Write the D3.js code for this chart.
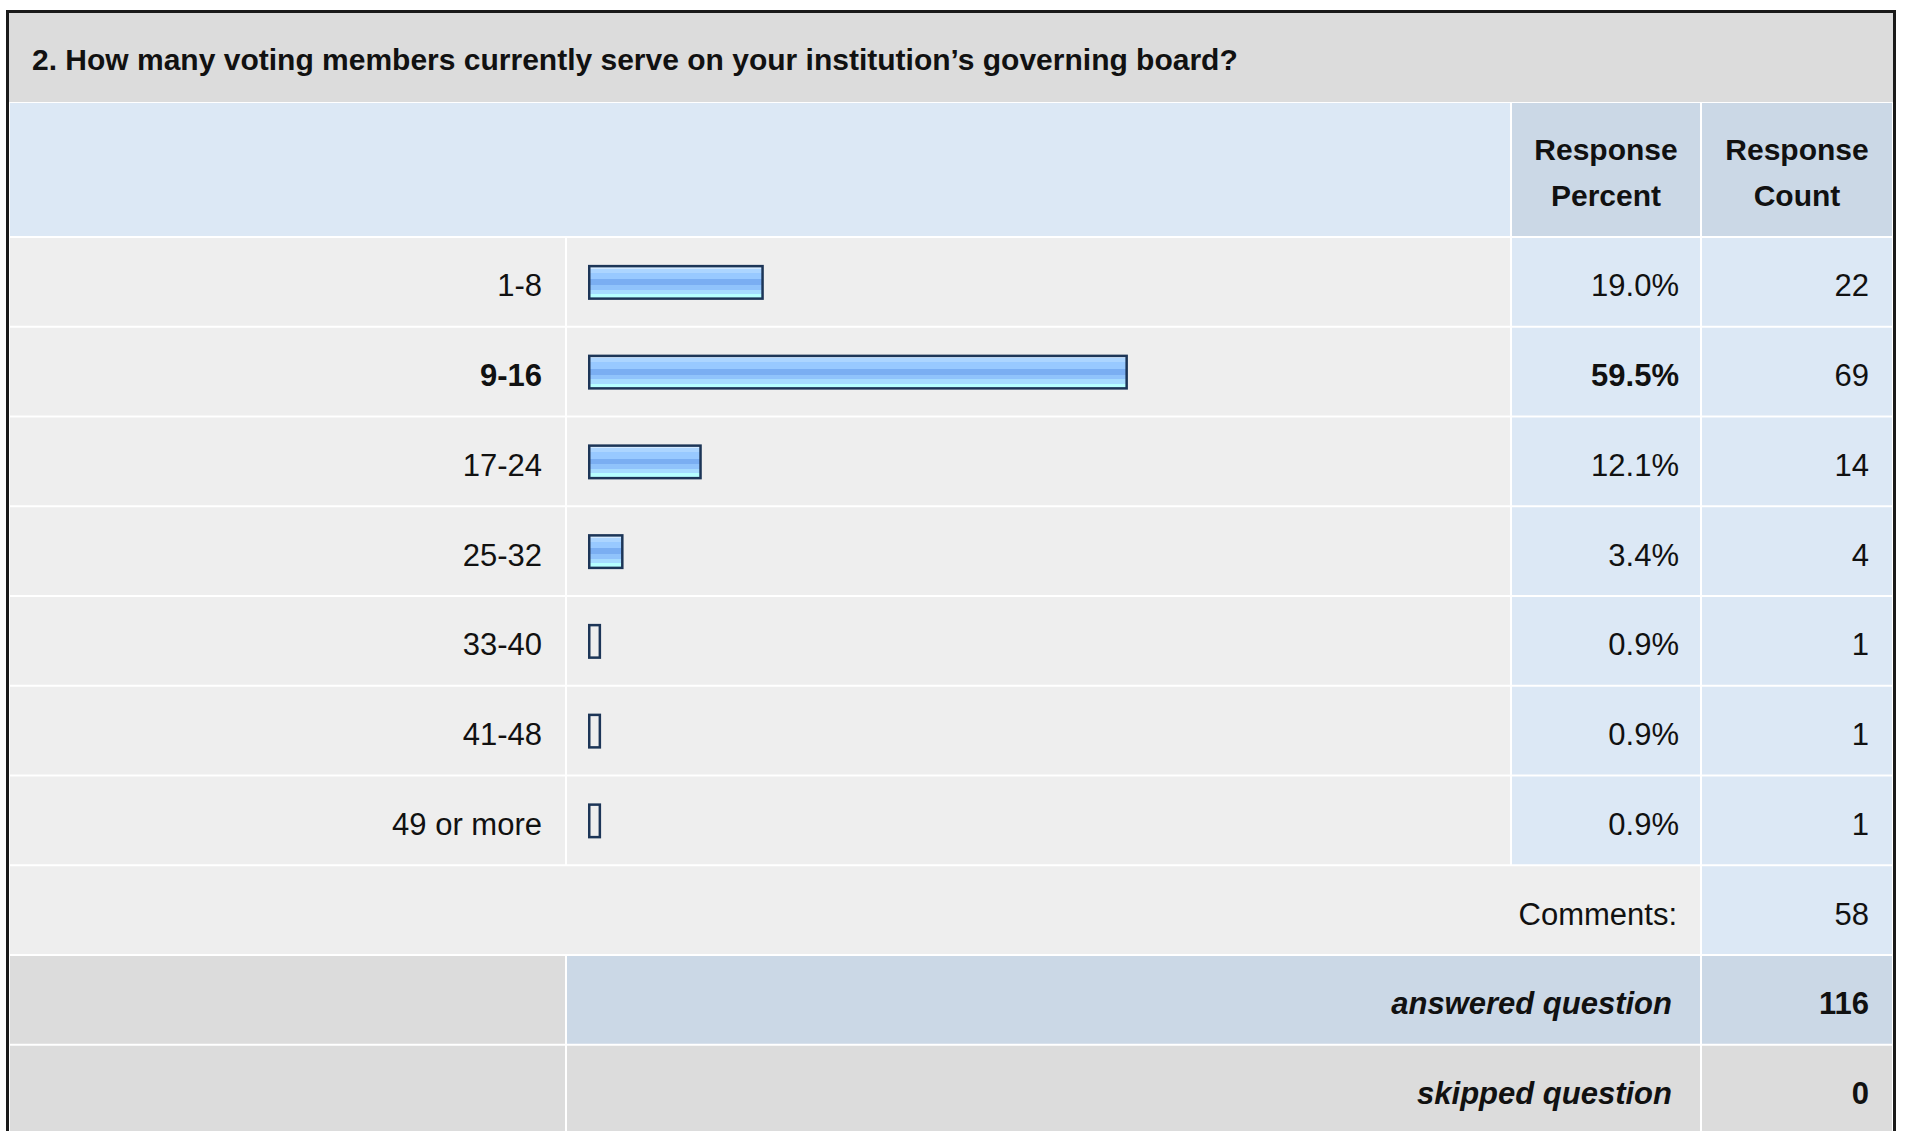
<!DOCTYPE html>
<html>
<head>
<meta charset="utf-8">
<script src="https://cdn.jsdelivr.net/npm/d3@7"></script>
<style>
  body { margin: 0; background: #fff; }
  svg text { font-family: "Liberation Sans", Arial, Helvetica, sans-serif; fill: #111; }
</style>
</head>
<body>
<svg id="chart" width="1907" height="1131"></svg>
<script>
const title = "2. How many voting members currently serve on your institution\u2019s governing board?";
const categories = ["1-8", "9-16", "17-24", "25-32", "33-40", "41-48", "49 or more"];
const percents = [19.0, 59.5, 12.1, 3.4, 0.9, 0.9, 0.9];
const counts = [22, 69, 14, 4, 1, 1, 1];
const headerPercent = ["Response", "Percent"];
const headerCount = ["Response", "Count"];
const commentsLabel = "Comments:";
const commentsCount = 58;
const answeredLabel = "answered question";
const answeredCount = 116;
const skippedLabel = "skipped question";
const skippedCount = 0;

const width = 1907, height = 1131;
const svg = d3.select("#chart");

// column edges: label | bar | percent | count
const colX = [9, 566, 1511, 1701, 1893];
const rowKeys = categories.concat(["comments", "answered", "skipped"]);
const y = d3.scaleBand().domain(rowKeys).range([237, 237 + rowKeys.length * 89.75]);
const x = d3.scaleLinear().domain([0, 100]).range([0, 899]);
const barLeft = 588, barH = 35, barPad = 5;
const maxPct = d3.max(percents);

const fontBody = 31;

// gradient for the bars
const grad = svg.append("defs").append("linearGradient")
    .attr("id", "barFill").attr("x1", 0).attr("y1", 0).attr("x2", 0).attr("y2", 1);
[[0, "#d2e9ff"], [0.08, "#d2e9ff"], [0.08, "#acd5ff"], [0.2, "#acd5ff"], [0.2, "#98c9ff"],
 [0.4, "#98c9ff"], [0.4, "#7aaef2"], [0.58, "#7aaef2"], [0.58, "#90c3fb"], [0.72, "#90c3fb"],
 [0.72, "#a6dcff"], [0.85, "#a6dcff"], [0.85, "#b6ffff"], [1, "#b6ffff"]]
  .forEach(s => grad.append("stop").attr("offset", s[0]).attr("stop-color", s[1]));

// white table background
svg.append("rect").attr("x", 9).attr("y", 13).attr("width", 1884).attr("height", height).attr("fill", "#fff");

const bg = svg.append("g");
const fg = svg.append("g");

function cell(x0, x1, y0, y1, color) {
    bg.append("rect")
        .attr("x", x0 + 1).attr("y", y0 + 1)
        .attr("width", x1 - x0 - 2).attr("height", y1 - y0 - 2)
        .attr("fill", color);
}

// title band
bg.append("rect").attr("x", 9).attr("y", 13).attr("width", 1884).attr("height", 89).attr("fill", "#dcdcdc");
fg.append("text").attr("x", 32).attr("y", 70)
    .attr("font-size", 30).attr("font-weight", "bold").text(title);

// header band
cell(colX[0], colX[2], 102, 237, "#dce8f5");
cell(colX[2], colX[3], 102, 237, "#cbd8e6");
cell(colX[3], colX[4], 102, 237, "#cbd8e6");
[[headerPercent, (colX[2] + colX[3]) / 2], [headerCount, (colX[3] + colX[4]) / 2]].forEach(([lines, cx]) => {
    lines.forEach((t, i) => {
        fg.append("text").attr("x", cx).attr("y", 160 + i * 46)
            .attr("text-anchor", "middle").attr("font-size", 30).attr("font-weight", "bold").text(t);
    });
});

// data rows
const rows = categories.map((c, i) => ({ cat: c, pct: percents[i], count: counts[i] }));
rows.forEach(d => {
    const y0 = y(d.cat), y1 = y0 + y.bandwidth();
    cell(colX[0], colX[1], y0, y1, "#eeeeee");
    cell(colX[1], colX[2], y0, y1, "#eeeeee");
    cell(colX[2], colX[3], y0, y1, "#dce8f5");
    cell(colX[3], colX[4], y0, y1, "#dce8f5");
});

const rowG = fg.selectAll("g.row").data(rows).join("g").attr("class", "row");

rowG.append("rect")
    .attr("x", barLeft + 1.25)
    .attr("y", d => y(d.cat) + y.bandwidth() / 2 - barH / 2 + 1.75)
    .attr("width", d => x(d.pct) + barPad - 2.5)
    .attr("height", barH - 2.5)
    .attr("fill", d => d.pct >= 1 ? "url(#barFill)" : "none")
    .attr("stroke", "#1c3557")
    .attr("stroke-width", 2.5);

const baseline = k => y(k) + y.bandwidth() / 2 + 14.5;

rowG.append("text")
    .attr("x", 542).attr("y", d => baseline(d.cat))
    .attr("text-anchor", "end").attr("font-size", fontBody)
    .attr("font-weight", d => d.pct === maxPct ? "bold" : "normal")
    .text(d => d.cat);

rowG.append("text")
    .attr("x", 1679).attr("y", d => baseline(d.cat))
    .attr("text-anchor", "end").attr("font-size", fontBody)
    .attr("font-weight", d => d.pct === maxPct ? "bold" : "normal")
    .text(d => d.pct.toFixed(1) + "%");

rowG.append("text")
    .attr("x", 1869).attr("y", d => baseline(d.cat))
    .attr("text-anchor", "end").attr("font-size", fontBody)
    .text(d => d.count);

// comments row
{
    const y0 = y("comments"), y1 = y0 + y.bandwidth();
    cell(colX[0], colX[3], y0, y1, "#eeeeee");
    cell(colX[3], colX[4], y0, y1, "#dce8f5");
    fg.append("text").attr("x", 1677).attr("y", baseline("comments"))
        .attr("text-anchor", "end").attr("font-size", fontBody).text(commentsLabel);
    fg.append("text").attr("x", 1869).attr("y", baseline("comments"))
        .attr("text-anchor", "end").attr("font-size", fontBody).text(commentsCount);
}

// answered / skipped rows
[["answered", answeredLabel, answeredCount, "#cbd8e6"], ["skipped", skippedLabel, skippedCount, "#dcdcdc"]]
  .forEach(([k, label, n, color]) => {
    const y0 = y(k), y1 = y0 + y.bandwidth();
    cell(colX[0], colX[1], y0, y1, "#dcdcdc");
    cell(colX[1], colX[3], y0, y1, color);
    cell(colX[3], colX[4], y0, y1, color);
    fg.append("text").attr("x", 1672).attr("y", baseline(k))
        .attr("text-anchor", "end").attr("font-size", fontBody)
        .attr("font-weight", "bold").attr("font-style", "italic").text(label);
    fg.append("text").attr("x", 1869).attr("y", baseline(k))
        .attr("text-anchor", "end").attr("font-size", fontBody)
        .attr("font-weight", "bold").text(n);
  });

// outer border
fg.append("rect").attr("x", 7.5).attr("y", 11.5).attr("width", 1887).attr("height", height + 20)
    .attr("fill", "none").attr("stroke", "#1a1a1a").attr("stroke-width", 3);
</script>
</body>
</html>
